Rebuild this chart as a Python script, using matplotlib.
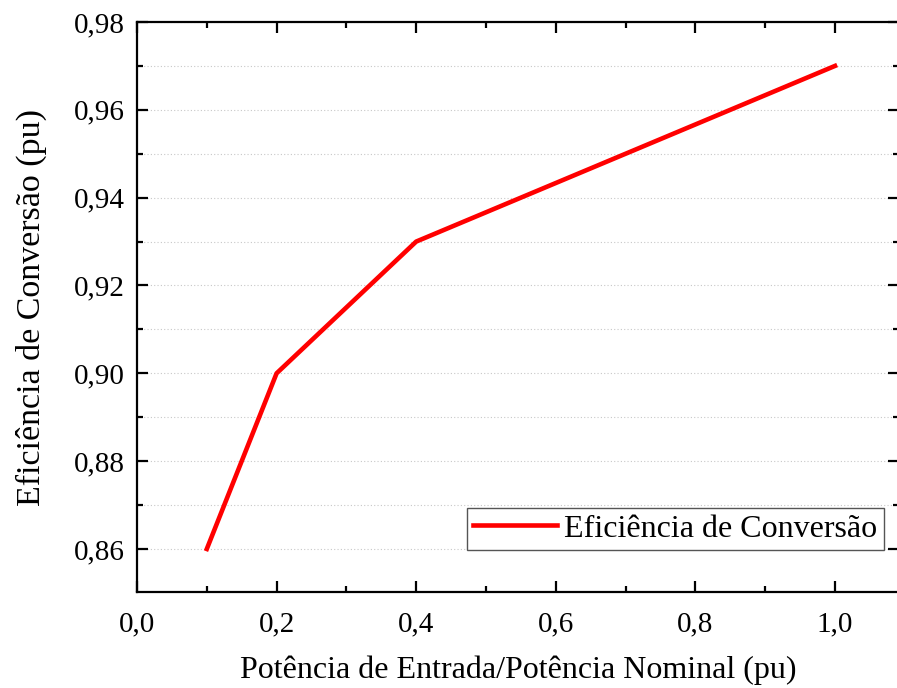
import numpy as np
import matplotlib.pyplot as plt
from matplotlib.ticker import MultipleLocator, FuncFormatter

# dados
potencia = [0.1, 0.2, 0.4, 1.0]
eficiencia = [0.86, 0.90, 0.93, 0.97]
legenda = 'Eficiência de Conversão'

plt.rcParams['font.family'] = ['Liberation Serif', 'DejaVu Serif']

fig = plt.figure(figsize=(8.97, 6.88), dpi=100)
ax = fig.add_axes([137 / 897, 96 / 688, 762 / 897, 570 / 688])

ax.plot(potencia, eficiencia, color='#ff0000', lw=3.3, label=legenda)

ax.set_xlim(0, 1.0917)
ax.set_ylim(0.8502, 0.98)

ax.xaxis.set_major_locator(MultipleLocator(0.2))
ax.xaxis.set_minor_locator(MultipleLocator(0.1))
ax.yaxis.set_major_locator(MultipleLocator(0.02))
ax.yaxis.set_minor_locator(MultipleLocator(0.01))

ax.xaxis.set_major_formatter(FuncFormatter(lambda v, p: f'{v:.1f}'.replace('.', ',')))
ax.yaxis.set_major_formatter(FuncFormatter(lambda v, p: f'{v:.2f}'.replace('.', ',')))

ax.tick_params(which='both', direction='in', top=True, right=True, width=1.6)
ax.tick_params(which='major', length=8, labelsize=21)
ax.tick_params(axis='x', which='major', pad=14)
ax.tick_params(axis='y', which='major', pad=9)
ax.tick_params(which='minor', length=4)

for s in ax.spines.values():
    s.set_linewidth(1.6)

ax.grid(axis='y', which='both', color='#c8c8c8', linestyle=(0, (1, 2)), lw=0.8)

ax.set_xlabel('Potência de Entrada/Potência Nominal (pu)', fontsize=23, labelpad=13)
ax.set_ylabel('Eficiência de Conversão (pu)', fontsize=24.5, labelpad=19)

leg = ax.legend(loc='lower right', bbox_to_anchor=(884 / 897, 138 / 688),
                bbox_transform=fig.transFigure, fontsize=23, fancybox=False,
                edgecolor='#555555', framealpha=1, handlelength=2.6,
                borderpad=0.2, handletextpad=0.25, borderaxespad=0)
leg.get_frame().set_linewidth(1.0)

fig.savefig('out.png', dpi=100)
